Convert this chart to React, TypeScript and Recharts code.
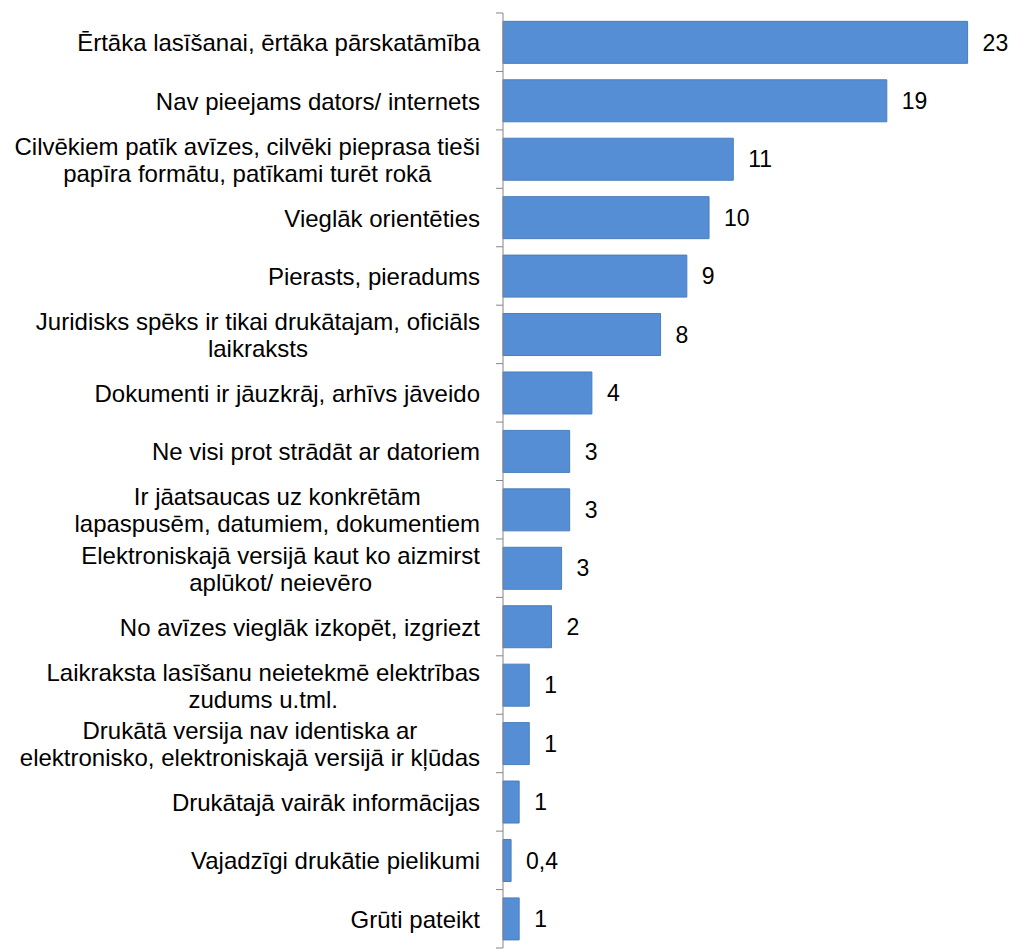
import { BarChart, Bar, XAxis, YAxis, LabelList } from "recharts";

const CATEGORIES = [
  "Ērtāka lasīšanai, ērtāka pārskatāmība",
  "Nav pieejams dators/ internets",
  "Cilvēkiem patīk avīzes, cilvēki pieprasa tieši\npapīra formātu, patīkami turēt rokā",
  "Vieglāk orientēties",
  "Pierasts, pieradums",
  "Juridisks spēks ir tikai drukātajam, oficiāls\nlaikraksts",
  "Dokumenti ir jāuzkrāj, arhīvs jāveido",
  "Ne visi prot strādāt ar datoriem",
  "Ir jāatsaucas uz konkrētām\nlapaspusēm, datumiem, dokumentiem",
  "Elektroniskajā versijā kaut ko aizmirst\naplūkot/ neievēro",
  "No avīzes vieglāk izkopēt, izgriezt",
  "Laikraksta lasīšanu neietekmē elektrības\nzudums u.tml.",
  "Drukātā versija nav identiska ar\nelektronisko, elektroniskajā versijā ir kļūdas",
  "Drukātajā vairāk informācijas",
  "Vajadzīgi drukātie pielikumi",
  "Grūti pateikt",
];

const VALUES = [23.0, 19.0, 11.4, 10.2, 9.1, 7.8, 4.4, 3.3, 3.3, 2.9, 2.4, 1.3, 1.3, 0.8, 0.4, 0.8];

const VALUE_LABELS = ["23", "19", "11", "10", "9", "8", "4", "3", "3", "3", "2", "1", "1", "1", "0,4", "1"];

const data = CATEGORIES.map((name, i) => ({ name, value: VALUES[i], label: VALUE_LABELS[i] }));

const W = 1019;
const H = 949;
const MARGIN = { top: 13, right: 11, bottom: 1, left: 0 };
const AXIS_W = 503;
const AXIS_X = MARGIN.left + AXIS_W;
const BAND = (H - MARGIN.top - MARGIN.bottom) / CATEGORIES.length;
const FONT = '"Liberation Sans", Arial, sans-serif';
const CAT_SIZE = 24;
const LINE_H = 27;
const LABEL_RIGHT = 480;

let ctx: CanvasRenderingContext2D | null = null;
function measure(s: string) {
  if (!ctx) ctx = document.createElement("canvas").getContext("2d");
  if (!ctx) return s.length * CAT_SIZE * 0.5;
  ctx.font = `${CAT_SIZE}px "Liberation Sans", Arial, sans-serif`;
  return ctx.measureText(s).width;
}

function CategoryTick(props: any) {
  const { y, payload } = props;
  const lines = String(payload.value).split("\n");
  const widest = Math.max(...lines.map(measure));
  const cx = LABEL_RIGHT - widest / 2;
  const startY = y - ((lines.length - 1) * LINE_H) / 2;
  const isLast = payload.value === CATEGORIES[CATEGORIES.length - 1];
  return (
    <g>
      <line x1={AXIS_X - 7} x2={AXIS_X} y1={y - BAND / 2} y2={y - BAND / 2} stroke="#868686" />
      {isLast && (
        <line x1={AXIS_X - 7} x2={AXIS_X} y1={y + BAND / 2} y2={y + BAND / 2} stroke="#868686" />
      )}
      <text
        textAnchor="middle"
        dominantBaseline="central"
        fontFamily={FONT}
        fontSize={CAT_SIZE}
        fill="#000"
      >
        {lines.map((l, i) => (
          <tspan key={i} x={cx} y={startY + i * LINE_H}>
            {l}
          </tspan>
        ))}
      </text>
    </g>
  );
}

export default function App() {
  return (
    <div style={{ position: "absolute", left: 0, top: 0, background: "#fff" }}>
      <BarChart
        width={W}
        height={H}
        data={data}
        layout="vertical"
        margin={MARGIN}
        barCategoryGap="14.3%"
      >
        <XAxis type="number" domain={[0, 25]} hide />
        <YAxis
          type="category"
          dataKey="name"
          width={AXIS_W}
          axisLine={{ stroke: "#868686", strokeWidth: 1 }}
          tickLine={false}
          tick={<CategoryTick />}
          interval={0}
        />
        <Bar
          dataKey="value"
          fill="#558ED5"
          stroke="#4A7EBB"
          strokeWidth={1}
          isAnimationActive={false}
        >
          <LabelList
            dataKey="label"
            position="right"
            offset={15}
            fill="#000"
            fontSize={23}
            fontFamily={FONT}
          />
        </Bar>
      </BarChart>
    </div>
  );
}
